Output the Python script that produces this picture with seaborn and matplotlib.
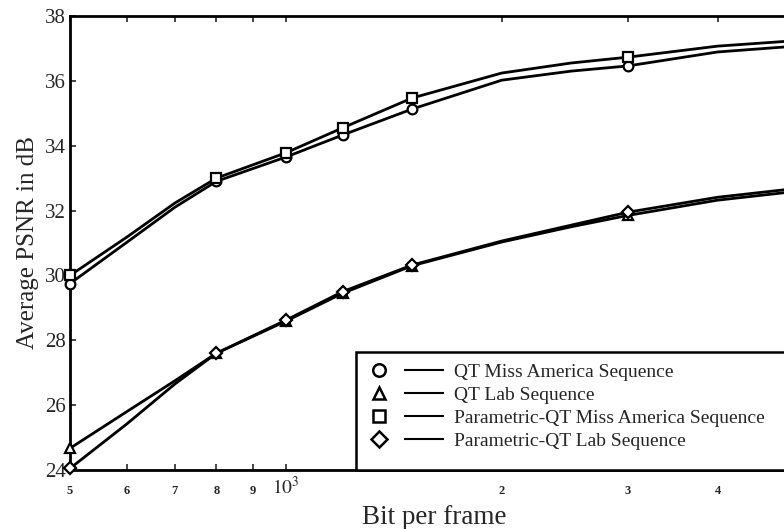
import matplotlib
matplotlib.use("Agg")
import matplotlib.pyplot as plt
import matplotlib.transforms as mtransforms
import seaborn as sns
from matplotlib.lines import Line2D
from matplotlib.patches import Rectangle
from matplotlib.legend_handler import HandlerTuple

# Bits per frame and where the markers sit
bits = [500, 600, 700, 800, 1000, 1200, 1500, 2000, 2500, 3000, 4000, 5000]
mark_idx = [0, 3, 4, 5, 6, 9]

qt_miss = [29.75, 31.02, 32.10, 32.90, 33.65, 34.33, 35.13, 36.02, 36.30, 36.46, 36.89, 37.05]
qt_lab = [24.67, 25.80, 26.75, 27.60, 28.59, 29.45, 30.30, 31.03, 31.50, 31.85, 32.32, 32.56]
pqt_miss = [30.00, 31.18, 32.23, 33.00, 33.78, 34.55, 35.47, 36.24, 36.55, 36.73, 37.07, 37.22]
pqt_lab = [24.05, 25.42, 26.65, 27.60, 28.62, 29.50, 30.32, 31.06, 31.55, 31.95, 32.41, 32.65]

labels = ["QT Miss America Sequence", "QT Lab Sequence",
          "Parametric-QT Miss America Sequence", "Parametric-QT Lab Sequence"]
markers = ["o", "^", "s", "D"]
series = [qt_miss, qt_lab, pqt_miss, pqt_lab]

x_ticks = [500, 600, 700, 800, 900, 1000, 2000, 3000, 4000]
x_tick_labels = ["5", "6", "7", "8", "9", "$10^3$", "2", "3", "4"]
y_ticks = [24, 26, 28, 30, 32, 34, 36, 38]

sns.set_style("ticks")
plt.rcParams['font.family'] = ['Liberation Serif', 'DejaVu Serif']
plt.rcParams['mathtext.fontset'] = 'stix'

fig = plt.figure(figsize=(7.84, 5.29), dpi=100)
ax = fig.add_axes([0.0893, 0.1115, 0.9107, 0.8583])

for vals, m in zip(series, markers):
    ms = 6 if m == "D" else 7
    sns.lineplot(x=bits, y=vals, ax=ax, color="black", linewidth=2,
                 marker=m, markersize=ms, markerfacecolor="white",
                 markeredgecolor="black", markeredgewidth=1.6,
                 markevery=mark_idx, clip_on=False, zorder=3)

ax.set_xscale("log")
ax.set_xlim(500, 4952)
ax.set_ylim(24, 38)
ax.set_xticks(x_ticks)
ax.set_xticklabels(x_tick_labels)
ax.xaxis.set_minor_locator(matplotlib.ticker.NullLocator())
ax.set_yticks(y_ticks)
ax.tick_params(axis="y", labelsize=15, direction="in", length=4, width=1.2, right=False, pad=3)
ax.tick_params(axis="x", labelsize=9, direction="in", length=4, width=1.2, top=True, pad=11)

# the 10^3 label is bigger and sits a little higher than the small digits
lift = mtransforms.ScaledTranslation(0, 7 / 72, fig.dpi_scale_trans)
for tick, txt in zip(ax.xaxis.get_major_ticks(), x_tick_labels):
    if "10" in txt:
        tick.label1.set_fontsize(14)
        tick.label1.set_transform(tick.label1.get_transform() + lift)
    else:
        tick.label1.set_fontweight("bold")

for side in ["left", "top", "bottom"]:
    ax.spines[side].set_linewidth(2)
    ax.spines[side].set_color("black")
ax.spines["right"].set_visible(False)

ax.set_xlabel("Bit per frame", fontsize=19.5, va="baseline")
ax.xaxis.set_label_coords(0.51, -0.1189)
ax.set_ylabel("Average PSNR in dB", fontsize=18, labelpad=4)

# legend box spans from x=0.40 to the right edge, bottom sits on the axis
box = Rectangle((0.40, 0.0), 0.61, 0.26, transform=ax.transAxes, facecolor="white",
                edgecolor="black", linewidth=1.8, zorder=4, clip_on=False)
ax.add_patch(box)

blank = Line2D([], [], linestyle="none")
handles = []
for m in markers:
    ms = 8 if m == "D" else 9
    mk = Line2D([], [], marker=m, linestyle="none", markersize=ms,
                markerfacecolor="white", markeredgecolor="black", markeredgewidth=1.8)
    ln = Line2D([], [], color="black", linewidth=1.5, solid_capstyle="butt")
    handles.append((mk, blank, blank, ln, ln, ln, ln))

leg = ax.legend(handles, labels, handler_map={tuple: HandlerTuple(ndivide=None, pad=0)},
                loc="upper left", bbox_to_anchor=(0.4254, 0.235),
                fontsize=14, handlelength=3.61, handletextpad=0.5, labelspacing=0.27,
                borderaxespad=0, frameon=False, borderpad=0)
leg.set_zorder(5)

fig.savefig("out.png", dpi=100)
